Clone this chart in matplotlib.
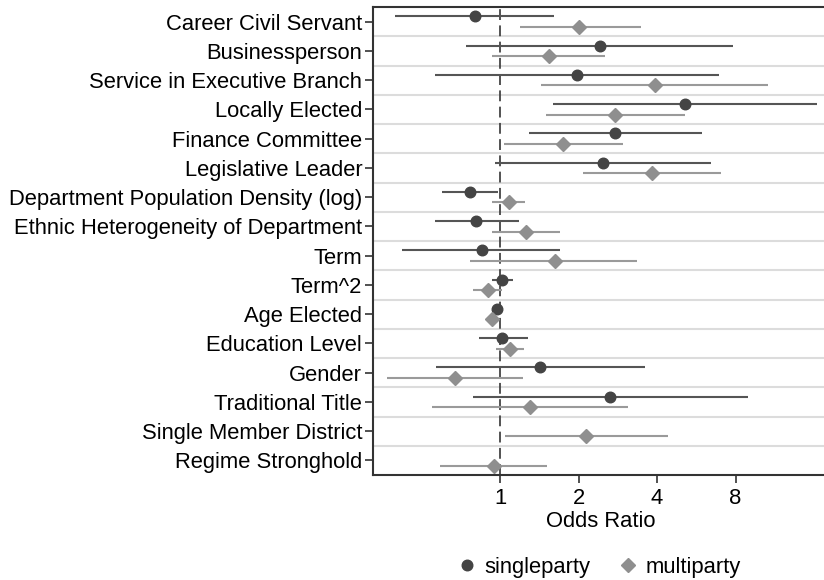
import numpy as np
import matplotlib
matplotlib.use("Agg")
import matplotlib.pyplot as plt
from matplotlib.lines import Line2D

plt.rcParams['font.family'] = ['Liberation Sans', 'DejaVu Sans']

categories = [
    "Career Civil Servant", "Businessperson", "Service in Executive Branch",
    "Locally Elected", "Finance Committee", "Legislative Leader",
    "Department Population Density (log)", "Ethnic Heterogeneity of Department",
    "Term", "Term^2", "Age Elected", "Education Level", "Gender",
    "Traditional Title", "Single Member District", "Regime Stronghold",
]

nan = np.nan
single_or = [0.80, 2.42, 1.97, 5.12, 2.77, 2.48, 0.77, 0.81, 0.85, 1.02, 0.97, 1.02, 1.42, 2.64, nan, nan]
single_lo = [0.395, 0.74, 0.565, 1.60, 1.29, 0.96, 0.60, 0.565, 0.42, 0.93, 0.95, 0.83, 0.57, 0.79, nan, nan]
single_hi = [1.61, 7.85, 6.94, 16.4, 5.97, 6.44, 0.98, 1.18, 1.70, 1.12, 0.99, 1.28, 3.59, 8.96, nan, nan]

multi_or = [2.01, 1.54, 3.92, 2.77, 1.75, 3.82, 1.08, 1.26, 1.62, 0.90, 0.935, 1.09, 0.67, 1.30, 2.14, 0.946]
multi_lo = [1.19, 0.93, 1.44, 1.50, 1.04, 2.09, 0.935, 0.935, 0.77, 0.79, 0.91, 0.965, 0.37, 0.55, 1.045, 0.59]
multi_hi = [3.46, 2.53, 10.66, 5.12, 2.95, 7.04, 1.25, 1.70, 3.36, 1.015, 0.96, 1.24, 1.22, 3.11, 4.40, 1.52]

xticks = [1, 2, 4, 8]

W, H = 824, 580
fig = plt.figure(figsize=(W / 100, H / 100), dpi=100)
ax_right = W + 4
ax = fig.add_axes([373.3 / W, 105 / H, (ax_right - 373.3) / W, 468 / H])

n = len(categories)
ypos = np.arange(1, n + 1)
off = 0.18

dark = '#444444'
dark_line = '#555555'
light = '#8f8f8f'
light_line = '#9a9a9a'

# row separators
for k in range(1, n):
    ax.axhline(k + 0.5, color='#dcdcdc', lw=1.5, zorder=0)

ax.axvline(1, color='#444444', lw=1.3, ls=(0, (6, 3)), zorder=1)

ax.hlines(ypos - off, single_lo, single_hi, color=dark_line, lw=1.5, zorder=2)
ax.hlines(ypos + off, multi_lo, multi_hi, color=light_line, lw=1.5, zorder=2)
ax.plot(single_or, ypos - off, 'o', color=dark, ms=7.6, mec=dark, zorder=3, ls='none')
ax.plot(multi_or, ypos + off, 'D', color=light, ms=7.4, mec=light, zorder=3, ls='none')

ax.set_xscale('log', base=2)
px_per_oct = 78.5
ax.set_xlim(2 ** ((373.3 - 500) / px_per_oct), 2 ** ((ax_right - 500) / px_per_oct))
ax.set_ylim(n + 0.5, 0.5)
ax.set_xticks(xticks)
ax.set_xticklabels([str(t) for t in xticks])
ax.minorticks_off()
ax.set_yticks(ypos)
ax.set_yticklabels(categories)

ax.tick_params(axis='y', labelsize=15.8, length=6, width=1.2, color='#333333', pad=2)
ax.tick_params(axis='x', labelsize=15.8, length=6, width=1.2, color='#333333', pad=3)
ax.set_xlabel("Odds Ratio", fontsize=15.8, labelpad=2)

for s in ['left', 'bottom', 'top']:
    ax.spines[s].set_color('#333333')
    ax.spines[s].set_linewidth(1.5)
ax.spines['right'].set_visible(False)

handles = [
    Line2D([], [], marker='o', ls='none', color=dark, ms=7.6, label='singleparty'),
    Line2D([], [], marker='D', ls='none', color=light, ms=7.4, label='multiparty'),
]
fig.legend(handles=handles, loc='center', bbox_to_anchor=(598 / W, 1 - 567 / H),
           ncol=2, frameon=False, fontsize=15.8, handletextpad=0.3,
           columnspacing=1.2, handlelength=1.0)

fig.savefig('out.png', dpi=100)
